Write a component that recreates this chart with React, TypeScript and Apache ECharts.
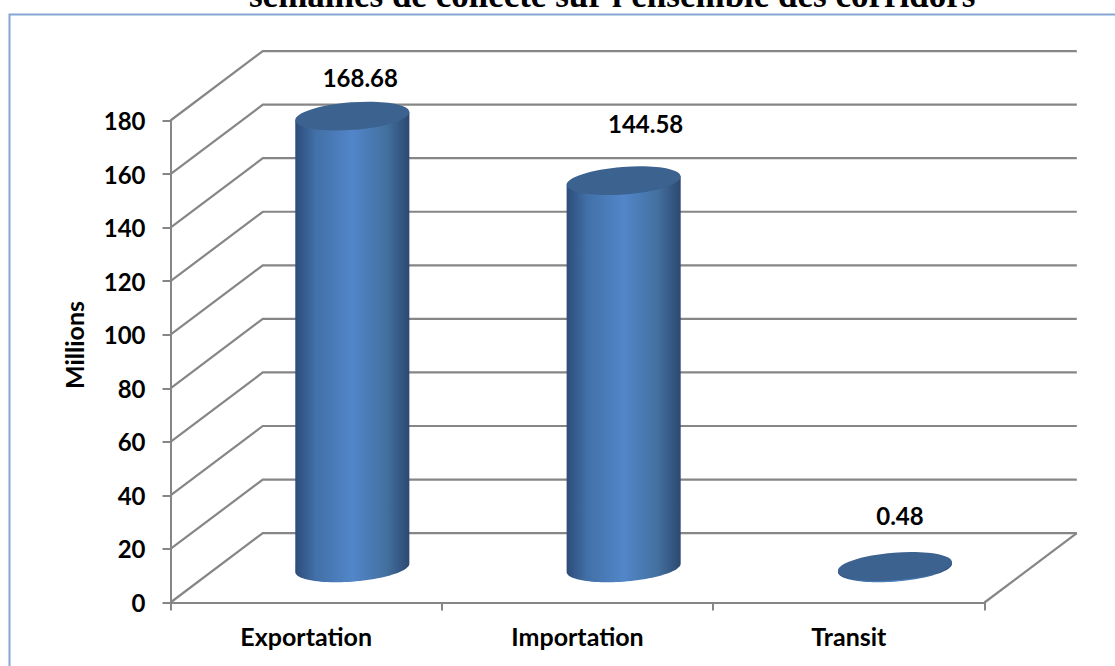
import React, { useEffect, useRef } from "react";
import * as echarts from "echarts";

const titleText = "semaines de collecte sur l'ensemble des corridors";
const axisName = "Millions";
const categories = ["Exportation", "Importation", "Transit"];
const values = [168.68, 144.58, 0.48];
const valueLabels = ["168.68", "144.58", "0.48"];
const yTicks = [0, 20, 40, 60, 80, 100, 120, 140, 160, 180];

const labelShift = [[8, -39], [22, -57], [5, -51]];
const DEPTH_X = 92.3;
const DEPTH_Y = 69.4;
const RX = 57.2;
const RY = 13.8;
const TILT = (4.47 * Math.PI) / 180;
const GRID = "#868686";
const FONT = "Lato, sans-serif";

export default function App() {
  const ref = useRef<HTMLDivElement>(null);
  useEffect(() => {
    document.body.style.margin = "0";
    document.body.style.overflow = "hidden";
    const chart = echarts.init(ref.current!, undefined, { renderer: "svg" });
    const bodyFill = new echarts.graphic.LinearGradient(0, 0, 1, 0, [
      { offset: 0, color: "#2d4c7a" },
      { offset: 0.18, color: "#4270a8" },
      { offset: 0.5, color: "#5286c9" },
      { offset: 0.8, color: "#43709f" },
      { offset: 1, color: "#2c4870" },
    ]);
    const ellipsePoint = (cx: number, cy: number, t: number) => [
      cx + RX * Math.cos(t) * Math.cos(TILT) + RY * Math.sin(t) * Math.sin(TILT),
      cy - RX * Math.cos(t) * Math.sin(TILT) + RY * Math.sin(t) * Math.cos(TILT),
    ];
    chart.setOption({
      animation: false,
      title: {
        text: titleText,
        left: 244,
        top: -27,
        textStyle: { fontFamily: "'Liberation Serif', serif", fontWeight: "bold", fontSize: 35, color: "#000" },
      },
      graphic: [
        {
          type: "rect",
          z: -1,
          shape: { x: 9.5, y: 14.5, width: 1300, height: 900 },
          style: { fill: "none", stroke: "#85a5d2", lineWidth: 2 },
        },
      ],
      grid: { left: 170.5, right: 130.5, top: 120.5, bottom: 63.5 },
      tooltip: { show: false },
      xAxis: {
        type: "category",
        data: categories,
        axisLine: { lineStyle: { color: GRID, width: 2 } },
        axisTick: { show: true, length: 8, lineStyle: { color: GRID, width: 2 } },
        axisLabel: { fontFamily: FONT, fontWeight: "bold", fontSize: 25, color: "#000", margin: 21 },
      },
      yAxis: {
        type: "value",
        min: 0,
        max: 180,
        interval: 20,
        name: axisName,
        nameLocation: "middle",
        nameGap: 84,
        nameTextStyle: { fontFamily: FONT, fontWeight: "bold", fontSize: 25, color: "#000", padding: [0, 0, 0, 33] },
        axisLine: { show: true, lineStyle: { color: GRID, width: 2 } },
        axisTick: { show: true, length: 8, lineStyle: { color: GRID, width: 2 } },
        axisLabel: { fontFamily: FONT, fontWeight: "bold", fontSize: 24, color: "#000", margin: 25 },
        splitLine: { show: false },
      },
      series: [
        {
          type: "custom",
          name: "walls",
          z: 1,
          silent: true,
          encode: { x: 0, y: 1 },
          data: yTicks.map((t) => [0, t]),
          renderItem: (params: any, api: any) => {
            const cs = params.coordSys;
            const y = api.coord([0, api.value(1)])[1];
            const lineStyle = { stroke: GRID, lineWidth: 2.2, fill: "none" };
            const children: any[] = [
              {
                type: "polyline",
                shape: {
                  points: [
                    [cs.x, y],
                    [cs.x + DEPTH_X, y - DEPTH_Y],
                    [cs.x + cs.width + DEPTH_X, y - DEPTH_Y],
                  ],
                },
                style: lineStyle,
              },
            ];
            if (api.value(1) === 0) {
              children.push({
                type: "line",
                shape: {
                  x1: cs.x + cs.width,
                  y1: y,
                  x2: cs.x + cs.width + DEPTH_X,
                  y2: y - DEPTH_Y,
                },
                style: lineStyle,
              });
            }
            return { type: "group", children };
          },
        },
        {
          type: "custom",
          name: "cylinders",
          z: 2,
          silent: true,
          encode: { x: 0, y: 1 },
          data: values.map((v, i) => [i, v]),
          renderItem: (params: any, api: any) => {
            const i = params.dataIndex;
            const top = api.coord([i, api.value(1)]);
            const base = api.coord([i, 0]);
            const cx = top[0] + DEPTH_X / 2;
            const yTop = top[1] - DEPTH_Y / 2;
            const yBase = base[1] - DEPTH_Y / 2;
            const t0 = Math.atan2(RY * Math.sin(TILT), RX * Math.cos(TILT));
            const pts: number[][] = [];
            for (let k = 0; k <= 48; k++) {
              pts.push(ellipsePoint(cx, yBase, t0 + (Math.PI * k) / 48));
            }
            pts.push(ellipsePoint(cx, yTop, t0 + Math.PI));
            pts.push(ellipsePoint(cx, yTop, t0));
            return {
              type: "group",
              children: [
                { type: "polygon", shape: { points: pts }, style: { fill: bodyFill } },
                {
                  type: "ellipse",
                  x: cx,
                  y: yTop,
                  rotation: TILT,
                  shape: { cx: 0, cy: 0, rx: RX, ry: RY },
                  style: { fill: "#3c628f" },
                },
                {
                  type: "text",
                  x: cx + labelShift[i][0],
                  y: yTop + labelShift[i][1],
                  style: {
                    text: valueLabels[i],
                    fontFamily: FONT,
                    fontWeight: "bold",
                    fontSize: 24,
                    fill: "#000",
                    align: "center",
                    verticalAlign: "middle",
                  },
                },
              ],
            };
          },
        },
      ],
    });
    return () => chart.dispose();
  }, []);
  return <div ref={ref} style={{ width: 1115, height: 666, background: "#fff" }} />;
}
